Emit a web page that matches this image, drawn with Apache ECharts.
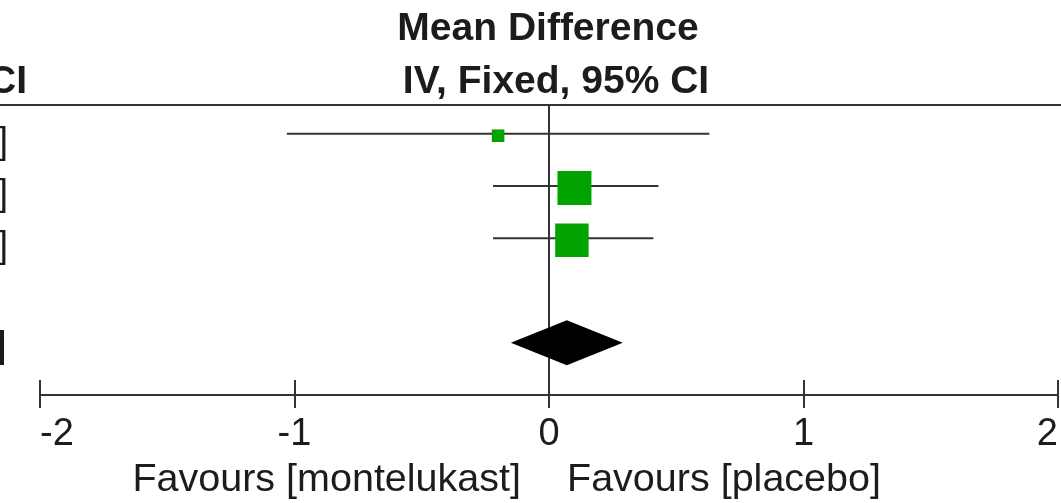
<!DOCTYPE html>
<html>
<head>
<meta charset="utf-8">
<title>Mean Difference, IV, Fixed, 95% CI</title>
<script src="https://cdn.jsdelivr.net/npm/echarts@6/dist/echarts.min.js"></script>
<style>
  html, body { margin: 0; padding: 0; background: #ffffff; }
  #chart { width: 1061px; height: 503px; }
</style>
</head>
<body>
<div id="chart"></div>
<script>
// Forest plot: montelukast vs placebo, mean difference (IV, fixed effect, 95% CI)
const studyRows = [0, 1, 2];                 // row index from the top
const studyMeans = [-0.20, 0.10, 0.09];
const studyLower = [-1.03, -0.22, -0.22];
const studyUpper = [0.63, 0.43, 0.41];
const studyWeights = [6.5, 47.5, 46.0];      // percent weight (square area)

const totalRow = 4;
const totalMean = 0.07;
const totalLower = -0.15;
const totalUpper = 0.29;

const xTicks = [-2, -1, 0, 1, 2];
const headerLine1 = 'Mean Difference';
const headerLine2 = 'IV, Fixed, 95% CI';
const favoursLeft = 'Favours [montelukast]';
const favoursRight = 'Favours [placebo]';

const FONT = "'Liberation Sans', Arial, Helvetica, sans-serif";
const INK = '#1c1c1c';
const LINE = '#333333';
const GREEN = '#00a300';

function ciText(m, lo, hi) {
  return m.toFixed(2) + ' [' + lo.toFixed(2) + ', ' + hi.toFixed(2) + ']';
}

const studyData = studyRows.map((r, i) => [r, studyMeans[i], studyLower[i], studyUpper[i], studyWeights[i]]);
const totalData = [[totalRow, totalMean, totalLower, totalUpper]];

const chart = echarts.init(document.getElementById('chart'), null, { renderer: 'canvas' });

const axisBase = {
  type: 'value',
  min: xTicks[0],
  max: xTicks[xTicks.length - 1],
  interval: 1,
  position: 'bottom',
  splitLine: { show: false }
};

chart.setOption({
  animation: false,
  backgroundColor: '#ffffff',
  grid: { left: 40, right: 3, top: 105, bottom: 108, containLabel: false },
  xAxis: [
    Object.assign({}, axisBase, {
      axisLine: { show: true, onZero: false, lineStyle: { color: LINE, width: 2 } },
      axisTick: { show: true, inside: false, length: 13, lineStyle: { color: LINE, width: 2 } },
      axisLabel: {
        show: true, margin: 21, fontSize: 38, color: INK, fontFamily: FONT,
        alignMinLabel: 'left', alignMaxLabel: 'right',
        formatter: v => String(v)
      }
    }),
    Object.assign({}, axisBase, {
      axisLine: { show: false, onZero: false },
      axisTick: { show: true, inside: true, length: 15, lineStyle: { color: LINE, width: 2 } },
      axisLabel: { show: false }
    })
  ],
  yAxis: {
    type: 'value',
    inverse: true,
    min: -0.55,
    max: 5,
    axisLine: { show: true, onZero: true, lineStyle: { color: LINE, width: 2 } },
    axisTick: { show: false },
    axisLabel: { show: false },
    splitLine: { show: false }
  },
  graphic: [
    {
      type: 'line', silent: true,
      shape: { x1: 0, y1: 105, x2: 1061, y2: 105 },
      style: { stroke: LINE, lineWidth: 2 }
    },
    {
      type: 'text', silent: true, x: 548, y: 29,
      style: { text: headerLine1, fill: INK, font: 'bold 39px ' + FONT, align: 'center', verticalAlign: 'middle' }
    },
    {
      type: 'text', silent: true, x: 556, y: 82,
      style: { text: headerLine2, fill: INK, font: 'bold 39px ' + FONT, align: 'center', verticalAlign: 'middle' }
    },
    {
      // right end of the left-hand column header
      type: 'text', silent: true, x: 27, y: 82,
      style: { text: headerLine2, fill: INK, font: 'bold 39px ' + FONT, align: 'right', verticalAlign: 'middle' }
    },
    {
      type: 'text', silent: true, x: 521, y: 480,
      style: { text: favoursLeft, fill: INK, font: '39.5px ' + FONT, align: 'right', verticalAlign: 'middle' }
    },
    {
      type: 'text', silent: true, x: 567, y: 480,
      style: { text: favoursRight, fill: INK, font: '39.5px ' + FONT, align: 'left', verticalAlign: 'middle' }
    }
  ],
  series: [
    {
      name: 'Studies',
      type: 'custom',
      xAxisIndex: 0,
      yAxisIndex: 0,
      clip: false,
      encode: { x: [1, 2, 3], y: 0 },
      data: studyData,
      renderItem: function (params, api) {
        const row = api.value(0);
        const m = api.value(1), lo = api.value(2), hi = api.value(3), w = api.value(4);
        const pm = api.coord([m, row]);
        const pl = api.coord([lo, row]);
        const ph = api.coord([hi, row]);
        const side = 4.93 * Math.sqrt(w);
        const leftEdge = api.coord([xTicks[0], row])[0];
        return {
          type: 'group',
          children: [
            {
              type: 'line',
              shape: { x1: pl[0], y1: pl[1], x2: ph[0], y2: ph[1] },
              style: { stroke: LINE, lineWidth: 2 }
            },
            {
              type: 'rect',
              shape: { x: pm[0] - side / 2, y: pm[1] - side / 2 + 2, width: side, height: side },
              style: { fill: GREEN }
            },
            {
              type: 'text',
              x: leftEdge - 32,
              y: pm[1] + 9,
              style: { text: ciText(m, lo, hi), fill: INK, font: '37px ' + FONT, align: 'right', verticalAlign: 'middle' }
            }
          ]
        };
      }
    },
    {
      name: 'Total',
      type: 'custom',
      xAxisIndex: 0,
      yAxisIndex: 0,
      clip: false,
      encode: { x: [1, 2, 3], y: 0 },
      data: totalData,
      renderItem: function (params, api) {
        const row = api.value(0);
        const m = api.value(1), lo = api.value(2), hi = api.value(3);
        const pm = api.coord([m, row]);
        const pl = api.coord([lo, row]);
        const ph = api.coord([hi, row]);
        const half = 22.5;
        const leftEdge = api.coord([xTicks[0], row])[0];
        return {
          type: 'group',
          children: [
            {
              type: 'polygon',
              shape: { points: [[pl[0], pl[1]], [pm[0], pm[1] - half], [ph[0], ph[1]], [pm[0], pm[1] + half]] },
              style: { fill: '#000000' }
            },
            {
              type: 'text',
              x: leftEdge - 34,
              y: pm[1] + 4,
              style: { text: ciText(m, lo, hi), fill: INK, font: 'bold 37px ' + FONT, align: 'right', verticalAlign: 'middle' }
            }
          ]
        };
      }
    }
  ]
});
</script>
</body>
</html>
